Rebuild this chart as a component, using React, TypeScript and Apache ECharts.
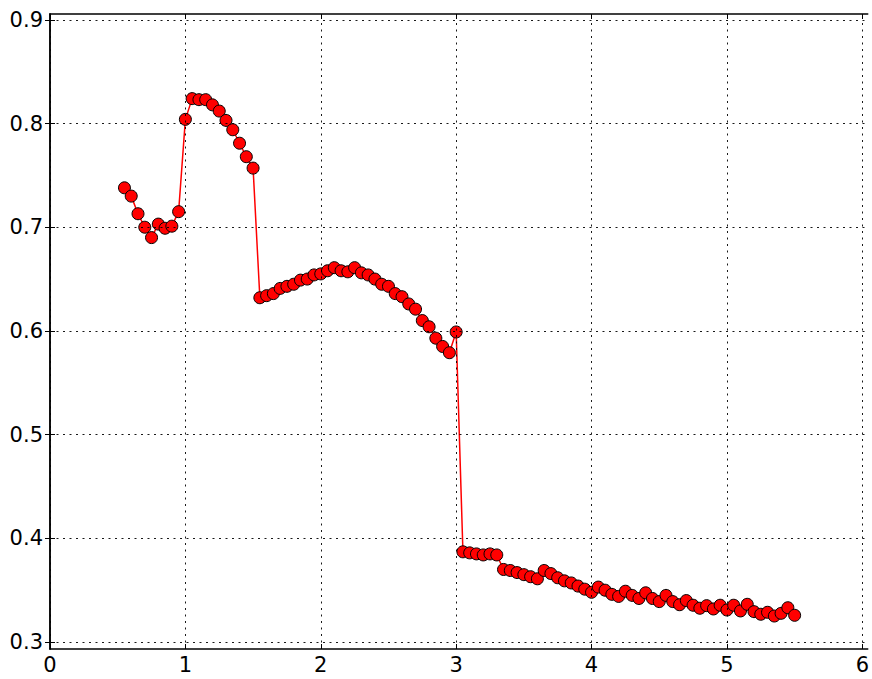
import React, { useEffect, useRef } from "react";
import * as echarts from "echarts";

const xValues = [
  0.55, 0.6, 0.65, 0.7, 0.75, 0.8, 0.85, 0.9, 0.95, 1.0,
  1.05, 1.1, 1.15, 1.2, 1.25, 1.3, 1.35, 1.4, 1.45, 1.5,
  1.55, 1.6, 1.65, 1.7, 1.75, 1.8, 1.85, 1.9, 1.95, 2.0,
  2.05, 2.1, 2.15, 2.2, 2.25, 2.3, 2.35, 2.4, 2.45, 2.5,
  2.55, 2.6, 2.65, 2.7, 2.75, 2.8, 2.85, 2.9, 2.95, 3.0,
  3.05, 3.1, 3.15, 3.2, 3.25, 3.3, 3.35, 3.4, 3.45, 3.5,
  3.55, 3.6, 3.65, 3.7, 3.75, 3.8, 3.85, 3.9, 3.95, 4.0,
  4.05, 4.1, 4.15, 4.2, 4.25, 4.3, 4.35, 4.4, 4.45, 4.5,
  4.55, 4.6, 4.65, 4.7, 4.75, 4.8, 4.85, 4.9, 4.95, 5.0,
  5.05, 5.1, 5.15, 5.2, 5.25, 5.3, 5.35, 5.4, 5.45, 5.5,
];

const yValues = [
  0.738, 0.730, 0.713, 0.700, 0.690, 0.703, 0.699, 0.701, 0.715, 0.804,
  0.824, 0.823, 0.823, 0.818, 0.812, 0.803, 0.794, 0.781, 0.768, 0.757,
  0.632, 0.634, 0.636, 0.641, 0.643, 0.645, 0.649, 0.650, 0.654, 0.655,
  0.658, 0.661, 0.658, 0.657, 0.661, 0.656, 0.654, 0.650, 0.645, 0.643,
  0.636, 0.633, 0.626, 0.621, 0.610, 0.604, 0.593, 0.585, 0.579, 0.599,
  0.387, 0.386, 0.385, 0.384, 0.385, 0.384, 0.370, 0.369, 0.367, 0.365,
  0.363, 0.361, 0.369, 0.366, 0.362, 0.359, 0.357, 0.354, 0.351, 0.348,
  0.353, 0.350, 0.346, 0.344, 0.349, 0.345, 0.342, 0.3475, 0.342, 0.339,
  0.345, 0.339, 0.336, 0.340, 0.3355, 0.3326, 0.3351, 0.3319, 0.3355, 0.3309,
  0.3355, 0.330, 0.3364, 0.3293, 0.3268, 0.3287, 0.3251, 0.3277, 0.3331, 0.3258,
];

const xTicks = [0, 1, 2, 3, 4, 5, 6];
const yTicks = [0.3, 0.4, 0.5, 0.6, 0.7, 0.8, 0.9];

const X_MIN = 0;
const X_MAX = 6.04;
const Y_MIN = 0.2933;
const Y_MAX = 0.9056;

const FONT = "'DejaVu Sans', sans-serif";

export default function App() {
  const ref = useRef<HTMLDivElement>(null);

  useEffect(() => {
    if (!ref.current) return;
    const chart = echarts.init(ref.current, undefined, { renderer: "svg" });

    const axisLine = { show: true, lineStyle: { color: "#000", width: 1.5 } };
    const tick = (vals: number[]) => ({
      show: true,
      inside: true,
      length: 5,
      customValues: vals,
      lineStyle: { color: "#000", width: 1 },
    });
    const gridStyle = { color: "#000", width: 1, type: [2, 4.5] as any, opacity: 0.9 };

    const pts = xValues.map((x, i) => [x, yValues[i]]);

    chart.setOption({
      animation: false,
      backgroundColor: "#fff",
      grid: { left: 50, top: 14, right: 1, bottom: 30, containLabel: false },
      xAxis: [
        {
          type: "value",
          min: X_MIN,
          max: X_MAX,
          position: "bottom",
          axisLine,
          axisTick: tick(xTicks),
          axisLabel: {
            customValues: xTicks,
            color: "#000",
            fontFamily: FONT,
            fontSize: 21,
            margin: 5,
            formatter: (v: number) => String(v),
          },
          splitLine: { show: false },
        },
        {
          type: "value",
          min: X_MIN,
          max: X_MAX,
          position: "top",
          axisLine,
          axisTick: tick(xTicks),
          axisLabel: { show: false },
          splitLine: { show: false },
        },
      ],
      yAxis: [
        {
          type: "value",
          min: Y_MIN,
          max: Y_MAX,
          position: "left",
          axisLine,
          axisTick: tick(yTicks),
          axisLabel: {
            customValues: yTicks,
            color: "#000",
            fontFamily: FONT,
            fontSize: 21,
            margin: 7,
            formatter: (v: number) => v.toFixed(1),
          },
          splitLine: { show: false },
        },
        {
          type: "value",
          min: Y_MIN,
          max: Y_MAX,
          position: "right",
          axisLine,
          axisTick: tick(yTicks),
          axisLabel: { show: false },
          splitLine: { show: false },
        },
      ],
      series: [
        {
          type: "line",
          z: 1,
          data: pts,
          showSymbol: false,
          lineStyle: { opacity: 0 },
          silent: true,
          markLine: {
            silent: true,
            symbol: "none",
            label: { show: false },
            lineStyle: gridStyle,
            data: [
              ...xTicks.map((v) => ({ xAxis: v })),
              ...yTicks.map((v) => ({ yAxis: v })),
            ],
          },
        },
        {
          type: "line",
          z: 3,
          data: pts,
          symbol: "circle",
          symbolSize: 12,
          showAllSymbol: true,
          lineStyle: { color: "#ff0000", width: 1.5 },
          itemStyle: { color: "#ff0000", borderColor: "#000", borderWidth: 1 },
        },
      ],
    });

    return () => chart.dispose();
  }, []);

  return (
    <div
      ref={ref}
      style={{ position: "fixed", left: 0, top: 0, width: 872, height: 679 }}
    />
  );
}
